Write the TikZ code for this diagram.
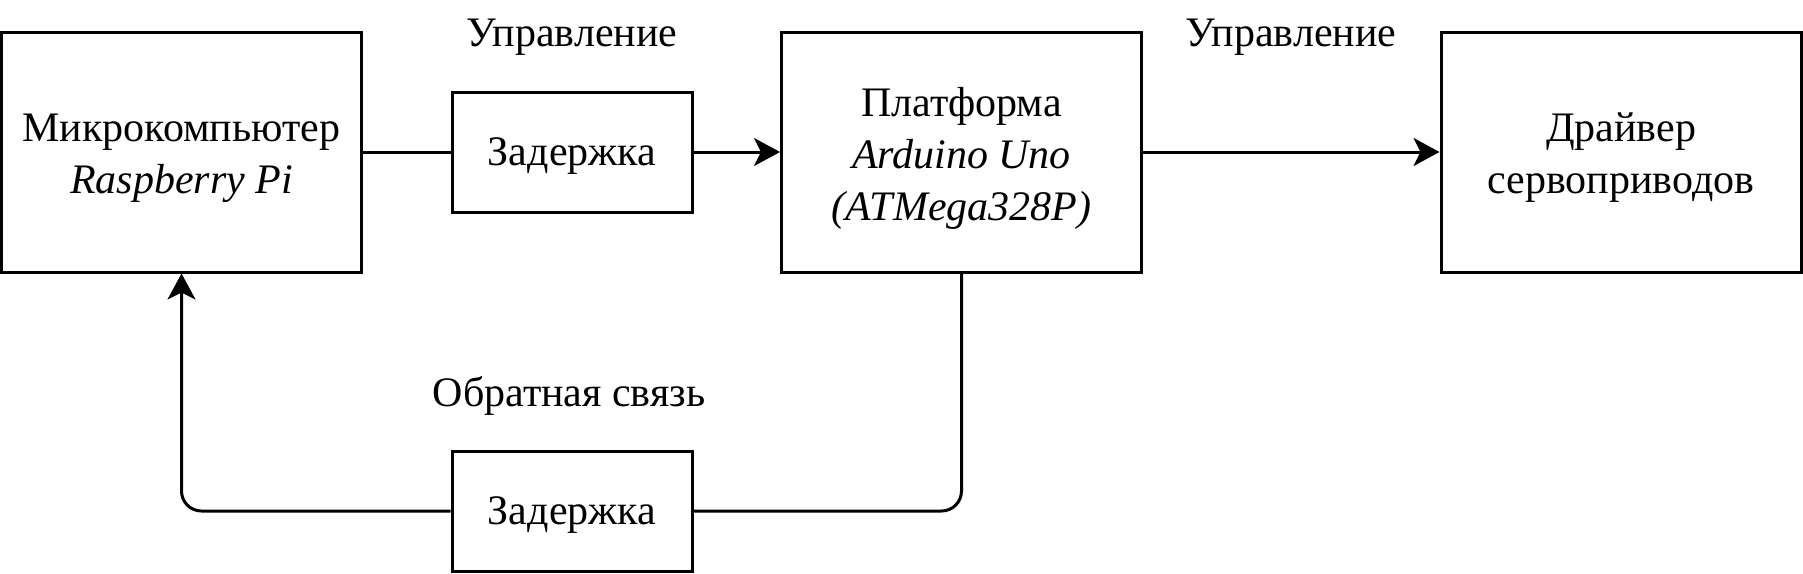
\documentclass[tikz,border=0pt]{standalone}
\usepackage{fontspec}
\setmainfont{Liberation Serif}
\usetikzlibrary{arrows.meta}
\tikzset{
  blk/.style={draw, line width=3pt, inner sep=0pt},
  big/.style={blk, minimum width=360pt, minimum height=240pt},
  dly/.style={blk, minimum width=240pt, minimum height=120pt},
  txt/.style={inner sep=0pt, align=center, font=\fontsize{42}{52}\selectfont},
  lbl/.style={inner sep=0pt, font=\fontsize{42}{52}\selectfont},
  conn/.style={line width=3pt},
  arr/.style={conn, -{Stealth[length=26pt,width=28pt,inset=7pt]}},
}
\begin{document}
\begin{tikzpicture}[x=1pt,y=-1pt]
\useasboundingbox (0,0) rectangle (1803,573);
\node[big] (mc) at (181.5,152) {};
\node[dly] (d1) at (572,152) {};
\node[big] (pl) at (961.5,152) {};
\node[big] (dr) at (1621,152) {};
\node[dly] (d2) at (572,511) {};
\node[txt, yshift=-6pt] (tmc) at (mc.center) {Микрокомпьютер\\\textit{Raspberry Pi}};
\node[txt, yshift=-4pt] (td1) at (d1.center) {Задержка};
\node[txt, yshift=-6pt] (tpl) at (pl.center) {Платформа\\\textit{Arduino Uno}\\\textit{(ATMega328P)}};
\node[txt, yshift=-6pt] (tdr) at (dr.center) {Драйвер\\сервоприводов};
\node[txt, yshift=-4pt] (td2) at (d2.center) {Задержка};
\node[lbl] (l1) at (572,37) {Управление};
\node[lbl] (l2) at (1291,37) {Управление};
\node[lbl] (l3) at (569,396) {Обратная связь};
\draw[conn] (mc.east) -- (d1.west);
\draw[arr] (d1.east) -- (pl.west);
\draw[arr] (pl.east) -- (dr.west);
\draw[conn, rounded corners=20pt] (pl.south) |- (d2.east);
\draw[arr, rounded corners=20pt] (d2.west) -| (mc.south);
\end{tikzpicture}
\end{document}
